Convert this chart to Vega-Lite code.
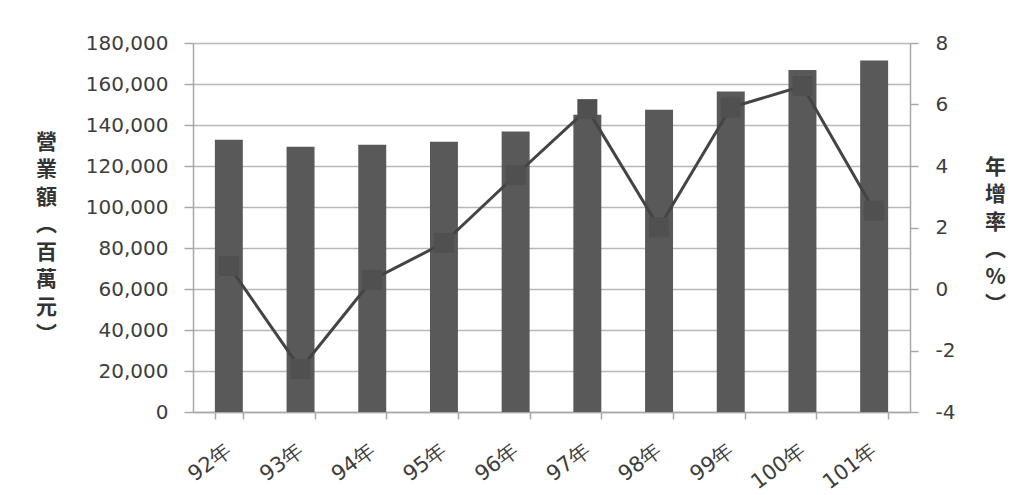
{
  "$schema": "https://vega.github.io/schema/vega-lite/v6.json",
  "width": 717,
  "height": 369,
  "autosize": "none",
  "padding": {"left": 193, "top": 43, "right": 117, "bottom": 83},
  "background": "white",
  "config": {
    "view": {"stroke": null},
    "axis": {
      "labelFont": "DejaVu Sans",
      "labelFontSize": 20,
      "labelColor": "#3d3d3d",
      "domainColor": "#a8a8a8",
      "domainWidth": 1.5,
      "tickColor": "#a8a8a8",
      "tickWidth": 1.5,
      "titleFont": "Noto Sans CJK TC",
      "titleFontSize": 21,
      "titleFontWeight": "bold",
      "titleColor": "#333333"
    }
  },
  "data": {
    "values": [
      {"year": "92年", "revenue": 132800, "growth": 0.75},
      {"year": "93年", "revenue": 129400, "growth": -2.6},
      {"year": "94年", "revenue": 130400, "growth": 0.3},
      {"year": "95年", "revenue": 131800, "growth": 1.5},
      {"year": "96年", "revenue": 136800, "growth": 3.7},
      {"year": "97年", "revenue": 145000, "growth": 5.85},
      {"year": "98年", "revenue": 147400, "growth": 2.0},
      {"year": "99年", "revenue": 156400, "growth": 5.9},
      {"year": "100年", "revenue": 166800, "growth": 6.6},
      {"year": "101年", "revenue": 171500, "growth": 2.55}
    ]
  },
  "encoding": {
    "x": {
      "field": "year",
      "type": "nominal",
      "sort": null,
      "scale": {"paddingInner": 0.61, "paddingOuter": 0.305},
      "axis": {
        "title": null,
        "tickBand": "extent",
        "tickSize": 7,
        "labelFontSize": 21,
        "labelAngle": -37,
        "labelAlign": "right",
        "labelBaseline": "middle",
        "labelPadding": 29
      }
    }
  },
  "layer": [
    {
      "mark": {"type": "bar", "color": "#595959"},
      "encoding": {
        "y": {
          "field": "revenue",
          "type": "quantitative",
          "scale": {"domain": [0, 180000], "nice": false},
          "axis": {
            "orient": "left",
            "values": [0, 20000, 40000, 60000, 80000, 100000, 120000, 140000, 160000, 180000],
            "format": ",d",
            "grid": true,
            "gridColor": "#b8b8b8",
            "gridWidth": 1.5,
            "tickSize": 9,
            "labelPadding": 16,
            "title": ["營", "業", "額", "︵", "百", "萬", "元", "︶"],
            "titleAngle": 0,
            "titleAlign": "center",
            "titleBaseline": "middle",
            "titleLineHeight": 27.5,
            "titleX": -147,
            "titleY": 99
          }
        }
      }
    },
    {
      "layer": [
        {
          "mark": {"type": "line", "color": "#444444", "strokeWidth": 3},
          "encoding": {
            "y": {
              "field": "growth",
              "type": "quantitative",
              "scale": {"domain": [-4, 8], "nice": false},
              "axis": {
                "orient": "right",
                "values": [-4, -2, 0, 2, 4, 6, 8],
                "labelExpr": "replace(datum.label, '−', '-')",
                "grid": false,
                "tickSize": 8,
                "labelPadding": 17,
                "title": ["年", "增", "率", "︵", "%", "︶"],
                "titleAngle": 0,
                "titleAlign": "center",
                "titleBaseline": "middle",
                "titleLineHeight": 27.5,
                "titleX": 85,
                "titleY": 124
              }
            }
          }
        },
        {
          "mark": {"type": "point", "shape": "square", "filled": true, "size": 400, "color": "#505050", "opacity": 1},
          "encoding": {
            "y": {
              "field": "growth",
              "type": "quantitative",
              "scale": {"domain": [-4, 8], "nice": false},
              "axis": {
                "orient": "right",
                "values": [-4, -2, 0, 2, 4, 6, 8],
                "labelExpr": "replace(datum.label, '−', '-')",
                "grid": false,
                "tickSize": 8,
                "labelPadding": 17,
                "title": ["年", "增", "率", "︵", "%", "︶"],
                "titleAngle": 0,
                "titleAlign": "center",
                "titleBaseline": "middle",
                "titleLineHeight": 27.5,
                "titleX": 85,
                "titleY": 124
              }
            }
          }
        }
      ]
    }
  ],
  "resolve": {"scale": {"y": "independent"}}
}
